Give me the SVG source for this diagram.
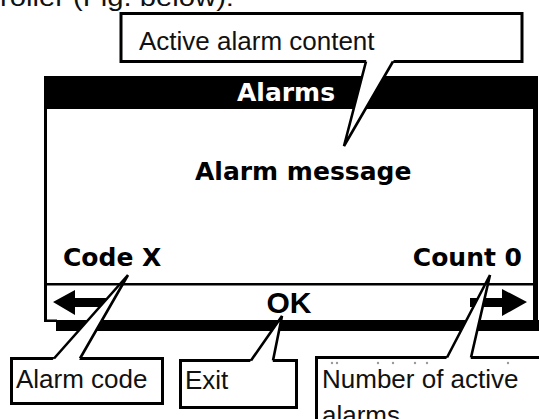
<svg xmlns="http://www.w3.org/2000/svg" width="539" height="419" viewBox="0 0 539 419">
<style>
.box{fill:#fff;stroke:#000;stroke-width:3}
.lbl{font-family:"Liberation Sans",Arial,sans-serif;font-size:26px;fill:#111}
.disp{font-family:"DejaVu Sans",Verdana,sans-serif;font-weight:bold;font-size:25px;fill:#000}
.ptr{fill:none;stroke:#000;stroke-width:2.6;stroke-linejoin:miter}
.wfill{fill:#fff}
.dot{fill:#999}
</style>
<rect x="0" y="0" width="539" height="419" fill="#fff"/>
<text class="lbl" x="0" y="6" font-size="27" textLength="234" lengthAdjust="spacingAndGlyphs">roller (Fig. below):</text>

<g id="display">
  <rect x="44" y="76" width="494" height="33" fill="#000"/>
  <rect x="44" y="76" width="3" height="246" fill="#000"/>
  <rect x="533" y="76" width="5" height="255" fill="#000"/>
  <rect x="44" y="283" width="491" height="2.5" fill="#000"/>
  <rect x="44" y="319.5" width="13" height="2.5" fill="#000"/>
  <rect x="56" y="320" width="483" height="11" fill="#000"/>
  <text class="disp" x="286" y="101" text-anchor="middle" fill="#fff" style="fill:#fff">Alarms</text>
  <text class="disp" x="195" y="180">Alarm message</text>
  <text class="disp" x="63" y="266">Code X</text>
  <text class="disp" x="522" y="266" text-anchor="end">Count 0</text>
  <text x="289" y="313" text-anchor="middle" font-family="Liberation Sans, Arial, sans-serif" font-weight="bold" font-size="30" fill="#000">OK</text>
  <polygon points="53,302 75,290 75,298 108,298 108,307 75,307 75,315" fill="#000"/>
  <polygon points="527,302 502,289 502,298 470,298 470,307 502,307 502,316" fill="#000"/>
</g>

<g id="callout-active">
  <rect class="box" x="121" y="13.5" width="401" height="48"/>
  <polygon class="wfill" points="366.9,58 395,58 344,146"/>
  <polyline class="ptr" points="366,61.5 344,146 393,61.5"/>
  <text class="lbl" x="139" y="50">Active alarm content</text>
</g>

<g id="callout-code">
  <rect class="box" x="11.5" y="358.5" width="151" height="45"/>
  <polygon class="wfill" points="50.9,362 78,362 128,275"/>
  <polyline class="ptr" points="54,358.5 128,275 80,358.5"/>
  <text class="lbl" x="16" y="388">Alarm code</text>
</g>

<g id="callout-exit">
  <rect class="box" x="180.5" y="360.5" width="116" height="47"/>
  <polygon class="wfill" points="248.6,364 272.3,364 282,316"/>
  <polyline class="ptr" points="251,360.5 282,316 273,360.5"/>
  <text class="lbl" x="185" y="389">Exit</text>
</g>

<g id="callout-count">
  <rect class="box" x="316.5" y="357.5" width="240" height="80"/>
  <polygon class="wfill" points="445.2,361 470.2,361 490,275"/>
  <polyline class="ptr" points="447,357.5 490,275 471,357.5"/>
  <circle class="dot" cx="332" cy="363" r="1.2"/>
  <circle class="dot" cx="337" cy="363" r="1.2"/>
  <circle class="dot" cx="378" cy="363" r="1.2"/>
  <circle class="dot" cx="393" cy="363" r="1.2"/>
  <circle class="dot" cx="415" cy="363" r="1.2"/>
  <circle class="dot" cx="427" cy="363" r="1.2"/>
  <circle class="dot" cx="508" cy="363" r="1.2"/>
  <text class="lbl" x="322" y="388">Number of active</text>
  <text class="lbl" x="322" y="424">alarms</text>
</g>
</svg>
